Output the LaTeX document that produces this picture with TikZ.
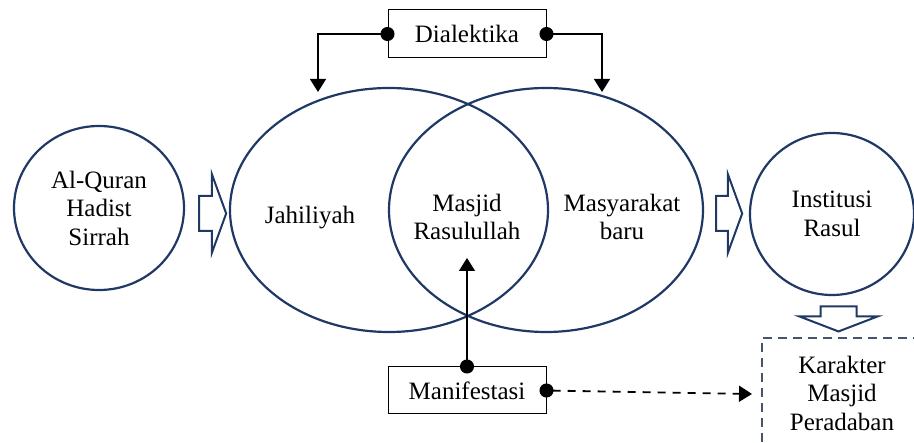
\documentclass[tikz,border=0pt]{standalone}
\usepackage{fontspec}
\setmainfont{Liberation Serif}
\usetikzlibrary{shapes.geometric,shapes.arrows,arrows.meta,positioning}
\definecolor{navyline}{RGB}{31,56,100}
\definecolor{slateline}{RGB}{68,84,106}

\begin{document}
\begin{tikzpicture}[x=1pt, y=-1pt,
    every node/.style={font=\fontsize{25}{28.5}\selectfont, align=center},
    ring/.style={ellipse, draw=navyline, line width=2.2pt, inner sep=0pt},
    hollow/.style={single arrow, draw=navyline, fill=white, line width=2pt, inner xsep=0pt, inner ysep=16.5pt, minimum width=77pt, single arrow head extend=22pt, single arrow tip angle=140},
    box/.style={rectangle, draw, line width=1pt, minimum width=158pt, minimum height=48pt},
    dashbox/.style={rectangle, draw=slateline, line width=1.5pt, dash pattern=on 9pt off 6pt, minimum width=160pt, minimum height=110pt},
    link/.style={{Circle[length=14pt]}-{Triangle[length=13pt,width=16pt]}, line width=1.3pt, shorten <=-7pt}
]

% Page frame
\clip (0,0) rectangle (914,443);

% Sources (left)
\node[ring, minimum width=170pt, minimum height=164pt] (sumber) at (99,208) {Al-Quran\\Hadist\\Sirrah};

% Two overlapping societies
\node[ring, minimum width=318pt, minimum height=244pt] (jahiliyah) at (389,210) {};
\node[ring, minimum width=314pt, minimum height=244pt] (baru) at (546,210) {};
\node (jahiltext) at (310,218) {Jahiliyah};
\node (masjid) at (467,217) {Masjid\\Rasulullah};
\node (barutext) at (622,217) {Masyarakat\\baru};

% Institution (right)
\node[ring, minimum width=164pt, minimum height=162pt] (institusi) at (832,214) {Institusi\\Rasul};

% Hollow block arrows
\node[hollow, minimum height=27pt] (panah1) at (209.5,213.5) {};
\node[hollow, minimum height=26pt] (panah2) at (726,213.5) {};
\node[hollow, minimum height=25pt, rotate=-90, inner ysep=17pt, single arrow head extend=21.5pt, single arrow tip angle=138] (panah3) at (838.5,315.5) {};

% Boxes
\node[box] (dialektika) at (467,34) {Dialektika};
\node[box, minimum height=47pt] (manifestasi) at (467,390.5) {Manifestasi};
\node[dashbox] (karakter) at (842,393) {Karakter\\Masjid\\Peradaban};

% Free ends of the connectors
\coordinate (kiri) at (318,92);
\coordinate (kanan) at (602,92);
\coordinate (tengah) at (467,258);
\coordinate (tuju) at (752,394);

% Connectors
\draw[link] (dialektika.west) -| (kiri);
\draw[link] (dialektika.east) -| (kanan);
\draw[link] (manifestasi.north) -- (tengah);
\draw[link, line width=1.8pt, dash pattern=on 8pt off 7pt] (manifestasi.east) -- (tuju);

\end{tikzpicture}
\end{document}
